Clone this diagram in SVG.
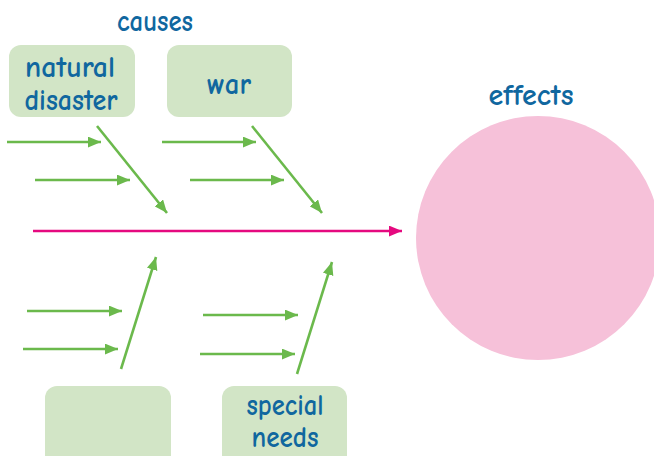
<svg xmlns="http://www.w3.org/2000/svg" width="654" height="456" viewBox="0 0 654 456">
<defs>
<marker id="ga" viewBox="0 0 12 10" refX="12" refY="5" markerWidth="13" markerHeight="11" markerUnits="userSpaceOnUse" orient="auto"><path d="M0,0 L12,5 L0,10 Z" fill="#6bb94c"/></marker>
<marker id="pa" viewBox="0 0 12 10" refX="12" refY="5" markerWidth="13" markerHeight="11" markerUnits="userSpaceOnUse" orient="auto"><path d="M0,0 L12,5 L0,10 Z" fill="#e5097f"/></marker>
</defs>
<style>
.box{fill:#d2e5c6}
.t{font-family:"Comic Neue","Liberation Sans",Arial,sans-serif;font-weight:bold;fill:#10679f;font-size:30px;text-anchor:middle}
.g{stroke:#6bb94c;stroke-width:2.6;fill:none;marker-end:url(#ga)}
</style>
<rect width="654" height="456" fill="#ffffff"/>
<text class="t" x="155" y="31" textLength="76" lengthAdjust="spacingAndGlyphs">causes</text>
<text class="t" x="531" y="105" textLength="85" lengthAdjust="spacingAndGlyphs">effects</text>
<g id="effects"><circle cx="538" cy="238" r="122" fill="#f6c1d9"/></g>
<g id="natural-disaster"><rect class="box" x="9" y="45" width="126" height="72" rx="12"/>
<text class="t" x="70" y="77" textLength="90" lengthAdjust="spacingAndGlyphs">natural</text>
<text class="t" x="71" y="110" textLength="93" lengthAdjust="spacingAndGlyphs">disaster</text></g>
<g id="war"><rect class="box" x="167" y="45" width="125" height="72" rx="12"/>
<text class="t" x="229" y="94" textLength="44" lengthAdjust="spacingAndGlyphs">war</text></g>
<g id="blank"><rect class="box" x="45" y="386" width="126" height="82" rx="12"/></g>
<g id="special-needs"><rect class="box" x="222" y="386" width="125" height="82" rx="12"/>
<text class="t" x="285" y="415" textLength="77" lengthAdjust="spacingAndGlyphs">special</text>
<text class="t" x="285" y="447" textLength="67" lengthAdjust="spacingAndGlyphs">needs</text></g>
<g id="connectors">
<line x1="33" y1="231" x2="402" y2="231" stroke="#e5097f" stroke-width="2.6" marker-end="url(#pa)"/>
<line class="g" x1="7" y1="142" x2="101" y2="142"/>
<line class="g" x1="35" y1="180" x2="130" y2="180"/>
<line class="g" x1="97" y1="126" x2="167" y2="213"/>
<line class="g" x1="162" y1="142" x2="256" y2="142"/>
<line class="g" x1="190" y1="180" x2="284" y2="180"/>
<line class="g" x1="252" y1="126" x2="322" y2="213"/>
<line class="g" x1="27" y1="311" x2="122" y2="311"/>
<line class="g" x1="23" y1="349" x2="118" y2="349"/>
<line class="g" x1="121" y1="369" x2="156" y2="257"/>
<line class="g" x1="203" y1="315" x2="298" y2="315"/>
<line class="g" x1="200" y1="354" x2="295" y2="354"/>
<line class="g" x1="297" y1="374" x2="332" y2="262"/>
</g>
</svg>
